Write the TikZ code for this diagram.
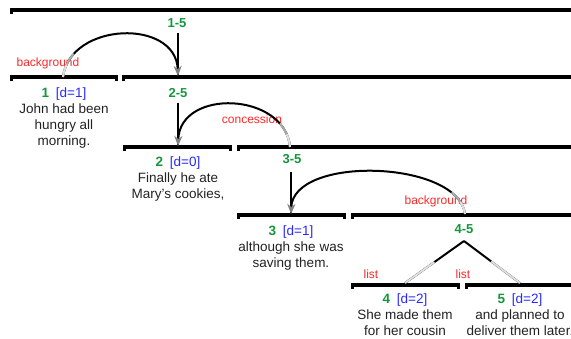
\documentclass[tikz,border=0pt]{standalone}
\usepackage{fontspec}
\setmainfont{Liberation Sans}
\usetikzlibrary{arrows.meta}
\definecolor{lblgreen}{RGB}{20,150,60}
\definecolor{lblblue}{RGB}{40,40,255}
\definecolor{lblred}{RGB}{255,40,40}
\definecolor{txtgray}{RGB}{34,34,34}
\begin{document}
\begin{tikzpicture}[x=1pt,y=-1pt,
  spanlbl/.style={font=\fontsize{13}{15}\selectfont\bfseries, text=lblgreen, inner sep=0pt, anchor=base},
  rel/.style={font=\fontsize{12}{14}\selectfont, text=lblred, inner sep=0pt, anchor=base},
  edu/.style={font=\fontsize{13.5}{16}\selectfont, text=txtgray, align=center, inner sep=0pt, anchor=base},
  link/.style={line width=2pt, black},
  arc/.style={line width=2pt, black, -{Stealth[length=10pt,width=8pt,inset=3pt,color=gray]}},
  fadeA/.style={line width=2pt, gray!65, dash pattern=on 26pt off 2000pt},
  fadeB/.style={line width=2pt, gray!25, dash pattern=on 13pt off 2000pt},
  fadeT/.style={line width=2pt, gray!25, dash pattern=on 36pt off 2000pt}]
\useasboundingbox (0,0) rectangle (571,338);
% ---- bars
\fill (10,8) rectangle (575,12);   \fill (10,8) rectangle (13,14);
\fill (10,75) rectangle (118,79);  \fill (10,75) rectangle (13,81); \fill (115,75) rectangle (118,81);
\fill (122,75) rectangle (575,79); \fill (122,75) rectangle (125,81);
\fill (123,145) rectangle (232,149); \fill (123,145) rectangle (126,151); \fill (229,145) rectangle (232,151);
\fill (237,145) rectangle (575,149); \fill (237,145) rectangle (240,151);
\fill (237,213) rectangle (346,217); \fill (237,213) rectangle (240,219); \fill (343,213) rectangle (346,219);
\fill (351,213) rectangle (575,217); \fill (351,213) rectangle (354,219);
\fill (351,283) rectangle (460,287); \fill (351,283) rectangle (354,289); \fill (457,283) rectangle (460,289);
\fill (465,283) rectangle (575,287); \fill (465,283) rectangle (468,289);
% ---- span labels
\node[spanlbl] (h15) at (177,27) {1-5};
\node[spanlbl] (h25) at (178,97) {2-5};
\node[spanlbl] (h35) at (292,163) {3-5};
\node[spanlbl] (h45) at (464,233) {4-5};
% ---- relation labels
\node[rel] (r1) at (48,66) {background};
\node[rel] (r2) at (252,123) {concession};
\node[rel] (r3) at (436,204) {background};
\node[rel] (r4) at (371,278) {list};
\node[rel] (r5) at (463,278) {list};
% ---- EDUs (base anchor = baseline of the last line)
\node[edu] (e1) at (64,145) {\textcolor{lblgreen}{\bfseries 1}\enspace\textcolor{lblblue}{[d=1]}\\John had been\\hungry all\\morning.};
\node[edu] (e2) at (178,198) {\textcolor{lblgreen}{\bfseries 2}\enspace\textcolor{lblblue}{[d=0]}\\Finally he ate\\Mary's cookies,};
\node[edu] (e3) at (291,267) {\textcolor{lblgreen}{\bfseries 3}\enspace\textcolor{lblblue}{[d=1]}\\although she was\\saving them.};
\node[edu] (e4) at (405,335) {\textcolor{lblgreen}{\bfseries 4}\enspace\textcolor{lblblue}{[d=2]}\\She made them\\for her cousin};
\node[edu] (e5) at (520,335) {\textcolor{lblgreen}{\bfseries 5}\enspace\textcolor{lblblue}{[d=2]}\\and planned to\\deliver them later.};
% ---- connector end points
\coordinate (t15) at (178,33);  \coordinate (b25) at (178,76);
\coordinate (s1) at (63,77);
\coordinate (t25) at (178,103); \coordinate (b2) at (178,146);
\coordinate (s35) at (290,147);
\coordinate (t35) at (291,172); \coordinate (b3) at (291,214);
\coordinate (s45) at (465,214);
\coordinate (apex) at (464,241);
\coordinate (c4) at (405,283); \coordinate (c5) at (520,283);
% ---- vertical links
\draw[link] (t15) -- (b25);
\draw[link] (t25) -- (b2);
\draw[link] (t35) -- (b3);
% ---- arcs
\draw[arc] (s1) .. controls (70,22) and (176,18) .. (b25);
\draw[fadeA] (s1) .. controls (70,22) and (176,18) .. (b25);
\draw[fadeB] (s1) .. controls (70,22) and (176,18) .. (b25);
\draw[arc] (s35) .. controls (285,92) and (180,88) .. (b2);
\draw[fadeA] (s35) .. controls (285,92) and (180,88) .. (b2);
\draw[fadeB] (s35) .. controls (285,92) and (180,88) .. (b2);
\draw[arc] (s45) .. controls (458,160) and (293,155) .. (b3);
\draw[fadeA] (s45) .. controls (458,160) and (293,155) .. (b3);
\draw[fadeB] (s45) .. controls (458,160) and (293,155) .. (b3);
% ---- multinuclear tree
\draw[link] (apex) -- (c4);
\draw[link] (apex) -- (c5);
\draw[fadeT] (c4) -- (apex);
\draw[fadeT] (c5) -- (apex);
\end{tikzpicture}
\end{document}
